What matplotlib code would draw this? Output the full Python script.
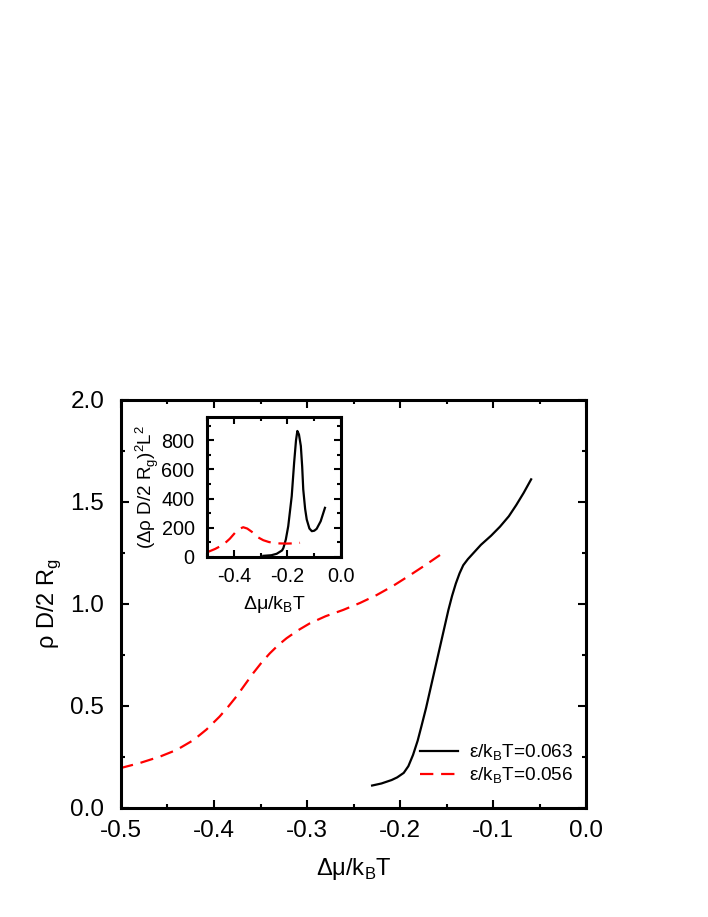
import matplotlib.pyplot as plt
from matplotlib.ticker import MultipleLocator

# main panel: density vs chemical potential
mu_063 = [-0.230, -0.220, -0.209, -0.203, -0.196, -0.191, -0.186, -0.181, -0.177, -0.172,
          -0.168, -0.164, -0.160, -0.156, -0.152, -0.148, -0.144, -0.140, -0.136,
          -0.132, -0.127, -0.121, -0.113, -0.102, -0.0925, -0.083, -0.075, -0.067, -0.059]
rho_063 = [0.11, 0.12, 0.137, 0.150, 0.172, 0.205, 0.26, 0.33, 0.40, 0.49,
           0.57, 0.65, 0.73, 0.81, 0.89, 0.97, 1.04, 1.10, 1.15,
           1.19, 1.22, 1.25, 1.29, 1.335, 1.379, 1.43, 1.485, 1.545, 1.611]

mu_056 = [-0.501, -0.48, -0.458, -0.44, -0.422, -0.408, -0.394, -0.385, -0.376, -0.367,
          -0.358, -0.349, -0.340, -0.331, -0.322, -0.31, -0.297, -0.28, -0.261, -0.243,
          -0.225, -0.207, -0.189, -0.173, -0.157]
rho_056 = [0.195, 0.22, 0.252, 0.285, 0.333, 0.385, 0.448, 0.495, 0.546, 0.603,
           0.660, 0.712, 0.758, 0.798, 0.832, 0.870, 0.905, 0.940, 0.971, 1.005,
           1.044, 1.090, 1.142, 1.190, 1.240]

# inset: fluctuations
imu_063 = [-0.29, -0.26, -0.24, -0.22, -0.215, -0.206, -0.197, -0.184, -0.175, -0.168,
           -0.163, -0.157, -0.150, -0.145, -0.141, -0.134, -0.128, -0.118, -0.109,
           -0.100, -0.091, -0.076, -0.060]
ifl_063 = [8, 12, 22, 45, 62, 120, 211, 417, 647, 800,
           864, 840, 761, 620, 463, 330, 257, 195, 177,
           180, 193, 245, 337]

imu_056 = [-0.5, -0.47, -0.439, -0.415, -0.396, -0.38, -0.365, -0.35, -0.327, -0.31,
           -0.29, -0.27, -0.253, -0.23, -0.203, -0.18, -0.153]
ifl_056 = [32, 55, 85, 125, 165, 192, 204, 195, 165, 135,
           115, 103, 97, 93, 92, 93, 97]

labels = ['ε/k$_\\mathregular{B}$T=0.063', 'ε/k$_\\mathregular{B}$T=0.056']

plt.rcParams['font.family'] = ['Liberation Sans', 'DejaVu Sans']
plt.rcParams['axes.linewidth'] = 2.2


def style(ax, size, major, minor, pad):
    ax.tick_params(which='both', direction='in', top=True, right=True,
                   width=1.5, labelsize=size, pad=pad)
    ax.tick_params(which='major', length=major)
    ax.tick_params(which='minor', length=minor)


def fmt(v, p):
    return f'{v:.1f}'.replace('-0.0', '0.0')


fig = plt.figure(figsize=[7.08, 9.17], dpi=100)
ax = fig.add_axes([0.1709, 0.1189, 0.6568, 0.4449])
ax.plot(mu_063, rho_063, color='black', lw=1.6, label=labels[0])
ax.plot(mu_056, rho_056, color='red', lw=1.6, dashes=(6, 3.5), label=labels[1])
ax.set_xlim(-0.5, 0.0)
ax.set_ylim(0.0, 2.0)
ax.xaxis.set_major_locator(MultipleLocator(0.1))
ax.xaxis.set_minor_locator(MultipleLocator(0.05))
ax.yaxis.set_major_locator(MultipleLocator(0.5))
ax.yaxis.set_minor_locator(MultipleLocator(0.25))
ax.xaxis.set_major_formatter(fmt)
ax.yaxis.set_major_formatter(fmt)
style(ax, 17.5, 6, 3, 12)
ax.tick_params(axis='x', pad=9)
ax.set_xlabel('Δμ/k$_\\mathregular{B}$T', fontsize=17, labelpad=10)
ax.set_ylabel('ρ D/2 R$_\\mathregular{g}$', fontsize=17, labelpad=5)
ax.legend(loc='lower right', bbox_to_anchor=(0.99, 0.035), frameon=False,
          fontsize=13.7, handlelength=2.0, handletextpad=0.6, labelspacing=0.15,
          borderaxespad=0)

ins = fig.add_axes([0.2924, 0.3926, 0.1893, 0.1527])
ins.plot(imu_063, ifl_063, color='black', lw=1.6)
ins.plot(imu_056, ifl_056, color='red', lw=1.6, dashes=(6, 3.5))
ins.set_xlim(-0.5, 0.0)
ins.set_ylim(0, 960)
ins.xaxis.set_major_locator(MultipleLocator(0.2))
ins.xaxis.set_minor_locator(MultipleLocator(0.1))
ins.yaxis.set_major_locator(MultipleLocator(200))
ins.yaxis.set_minor_locator(MultipleLocator(100))
ins.xaxis.set_major_formatter(fmt)
style(ins, 14.3, 5, 3, 7)
ins.tick_params(axis='y', pad=9)
ins.set_xlabel('Δμ/k$_\\mathregular{B}$T', fontsize=14, labelpad=6)
ins.set_ylabel('(Δρ D/2 R$_\\mathregular{g}$)$^\\mathregular{2}$L$^\\mathregular{2}$',
               fontsize=13.5, labelpad=0)

fig.savefig('out.png', dpi=100)
